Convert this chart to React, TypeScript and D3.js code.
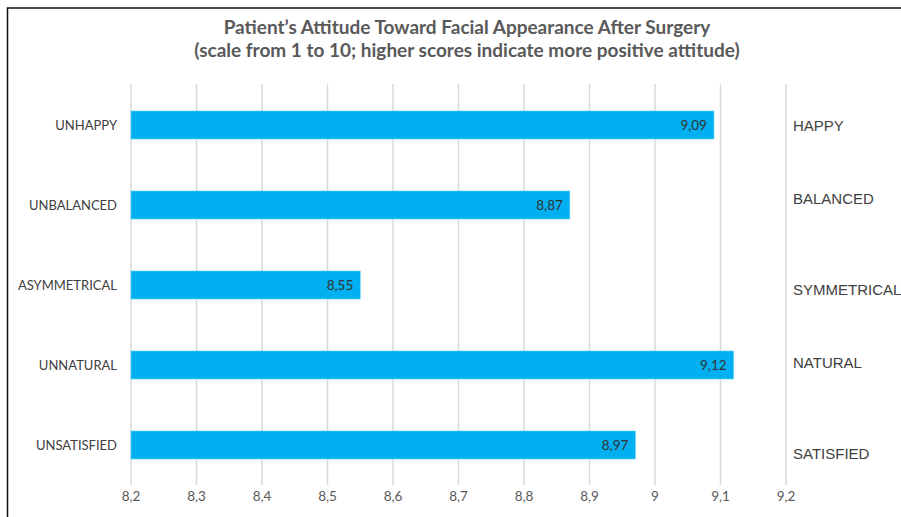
import React from "react";
import * as d3 from "d3";

const categories = ["UNHAPPY", "UNBALANCED", "ASYMMETRICAL", "UNNATURAL", "UNSATISFIED"];
const opposites = ["HAPPY", "BALANCED", "SYMMETRICAL", "NATURAL", "SATISFIED"];
const values = [9.09, 8.87, 8.55, 9.12, 8.97];
const ticks = [8.2, 8.3, 8.4, 8.5, 8.6, 8.7, 8.8, 8.9, 9.0, 9.1, 9.2];
const titleLines = [
  "Patient\u2019s Attitude Toward Facial Appearance After Surgery",
  "(scale from 1 to 10; higher scores indicate more positive attitude)",
];
const oppositeOffsets = [1, -6, 5, -2, 9];

const W = 901;
const H = 517;

export default function App() {
  const x = d3.scaleLinear().domain([8.2, 9.2]).range([131, 786]);
  const y = d3.scaleBand<string>().domain(categories).range([85, 485]).paddingInner(0.65).paddingOuter(0.325);
  const tickFmt = (v: number) => (Math.abs(v - Math.round(v)) < 1e-9 ? String(Math.round(v)) : v.toFixed(1).replace(".", ","));
  const valFmt = (v: number) => v.toFixed(2).replace(".", ",");
  const font = "Lato, 'Open Sans', sans-serif";
  return (
    <svg width={W} height={H} style={{ position: "absolute", left: 0, top: 0, background: "#fff" }}>
      <rect x={7.5} y={8} width={W + 10} height={H + 10} fill="#fff" stroke="#111" strokeWidth={1.5} />
      {titleLines.map((t, i) => (
        <text key={i} x={467} y={33.5 + i * 23} textAnchor="middle" fontFamily={font} fontWeight={700} fontSize={19} fill="#595959">
          {t}
        </text>
      ))}
      {ticks.map((t) => (
        <line key={t} x1={x(t)} x2={x(t)} y1={84} y2={485} stroke="#d9d9d9" strokeWidth={1.5} />
      ))}
      {categories.map((c, i) => (
        <g key={c}>
          <rect x={x(8.2)} y={y(c)!} width={x(values[i]) - x(8.2)} height={y.bandwidth()} fill="#00B0F0" stroke="#5fd0f5" strokeWidth={0.6} />
          <text x={x(values[i]) - 7} y={y(c)! + y.bandwidth() / 2} dy="0.35em" textAnchor="end" fontFamily={font} fontSize={13.5} fill="#333">
            {valFmt(values[i])}
          </text>
          <text x={117} y={y(c)! + y.bandwidth() / 2} dy="0.35em" textAnchor="end" fontFamily={font} fontSize={13} fill="#404040">
            {c}
          </text>
          <text x={793} y={y(c)! + y.bandwidth() / 2 + oppositeOffsets[i]} dy="0.35em" fontFamily="'Liberation Sans', Arial, sans-serif" fontSize={15} fill="#404040">
            {opposites[i]}
          </text>
        </g>
      ))}
      {ticks.map((t) => (
        <text key={"l" + t} x={x(t)} y={496} dy="0.35em" textAnchor="middle" fontFamily={font} fontSize={13.5} fill="#595959">
          {tickFmt(t)}
        </text>
      ))}
    </svg>
  );
}
